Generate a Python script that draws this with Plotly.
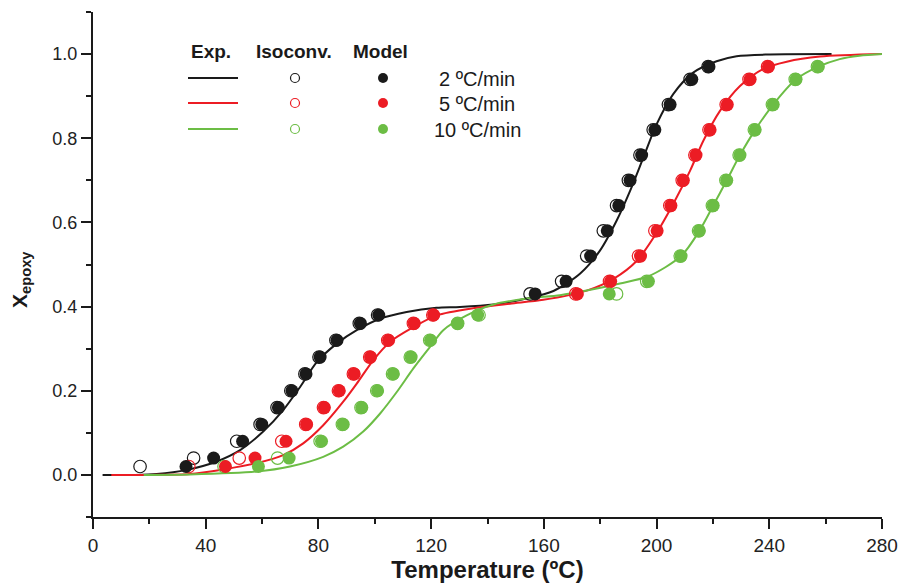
import plotly.graph_objects as go

# ---------------- data ----------------
conv_levels = [0.02, 0.04, 0.08, 0.12, 0.16, 0.20, 0.24, 0.28, 0.32, 0.36, 0.38,
               0.43, 0.46, 0.52, 0.58, 0.64, 0.70, 0.76, 0.82, 0.88, 0.94, 0.97]

# Model (filled) temperatures
model_T_2 = [33.0, 42.8, 53.1, 59.9, 65.8, 70.6, 75.6, 80.6, 86.6, 94.9, 101.4,
             156.9, 167.9, 176.6, 182.5, 186.6, 190.6, 194.7, 199.4, 204.8, 212.5, 218.6]
model_T_5 = [47.0, 57.5, 68.5, 75.8, 82.1, 87.4, 92.7, 98.5, 104.9, 114.0, 120.9,
             171.9, 183.7, 194.3, 200.2, 205.1, 209.5, 214.0, 219.0, 225.1, 233.2, 239.7]
model_T_10 = [58.7, 69.6, 81.1, 88.8, 95.4, 101.0, 106.6, 112.9, 119.8, 129.4, 136.5,
              183.2, 197.1, 208.7, 215.2, 220.1, 224.9, 229.6, 235.0, 241.4, 249.5, 257.4]

# Isoconversional (open) temperatures
iso_T_2 = [16.7, 35.7, 51.0, 59.3, 65.3, 70.2, 75.2, 80.2, 86.2, 94.5, 101.0,
           155.1, 166.3, 175.2, 181.1, 185.8, 190.0, 194.1, 198.8, 204.2, 211.9, 218.3]
iso_T_5 = [34.0, 51.9, 67.0, 75.5, 81.8, 87.1, 92.4, 98.2, 104.6, 113.7, 120.6,
           171.3, 183.3, 193.6, 199.4, 204.7, 209.1, 213.6, 218.6, 224.7, 232.8, 239.4]
iso_T_10 = [46.5, 65.5, 80.6, 88.5, 95.1, 100.7, 106.3, 112.6, 119.5, 129.4, 137.0,
            185.8, 196.5, 208.4, 214.9, 219.8, 224.6, 229.3, 234.7, 241.1, 249.2, 257.1]

# Experimental curves
exp_T_2 = [3.4, 15, 22.6, 33.3, 43.9, 52.2, 60.4, 67.5, 73.5, 79.4, 86.5, 93.6, 101.9,
           111.3, 121.9, 130.2, 142.1, 153.9, 163.4, 172.8, 179.9, 185.8, 190.6, 195.3,
           200.0, 205.9, 213.0, 221.3, 228.4, 240.2, 262.1]
exp_X_2 = [0.0, 0.0, 0.002, 0.012, 0.032, 0.059, 0.103, 0.154, 0.209, 0.268, 0.312, 0.344,
           0.371, 0.387, 0.397, 0.399, 0.405, 0.419, 0.437, 0.478, 0.533, 0.604, 0.675,
           0.754, 0.833, 0.905, 0.956, 0.983, 0.995, 0.999, 1.0]
exp_T_5 = [6.5, 20, 34.4, 46.2, 58.1, 67.5, 74.6, 81.7, 88.8, 93.6, 99.5, 105.4, 113.7,
           122.0, 136.1, 148.0, 159.8, 175.2, 184.7, 193.0, 201.2, 207.1, 211.9, 216.6,
           222.5, 229.6, 237.9, 246.2, 258.0, 280]
exp_X_5 = [0.0, 0.0, 0.002, 0.013, 0.028, 0.047, 0.075, 0.118, 0.174, 0.217, 0.273, 0.316,
           0.351, 0.379, 0.397, 0.407, 0.416, 0.438, 0.466, 0.509, 0.588, 0.659, 0.723,
           0.794, 0.865, 0.924, 0.965, 0.982, 0.994, 1.0]
exp_T_10 = [18, 34.4, 58.1, 69.9, 81.7, 88.8, 95.9, 101.9, 107.8, 113.7, 119.6, 124.3,
            132.6, 142.1, 153.9, 165.7, 175.2, 187.0, 197.1, 208.7, 215.2, 220.1, 224.9,
            229.6, 235.0, 241.4, 249.5, 257.4, 265.0, 272.0, 280]
exp_X_10 = [0.0, 0.001, 0.008, 0.02, 0.043, 0.067, 0.103, 0.146, 0.197, 0.253, 0.304, 0.344,
            0.379, 0.405, 0.419, 0.427, 0.438, 0.455, 0.472, 0.52, 0.58, 0.64, 0.70,
            0.76, 0.82, 0.88, 0.94, 0.97, 0.988, 0.996, 1.0]

rate_labels = ["2 ºC/min", "5 ºC/min", "10 ºC/min"]
x_ticks = [0, 40, 80, 120, 160, 200, 240, 280]
y_ticks = [0.0, 0.2, 0.4, 0.6, 0.8, 1.0]

# ---------------- styles ----------------
colors = ["#1a1a1a", "#ec1c24", "#6cbd45"]
sans = "Liberation Sans, Arial, sans-serif"

fig = go.Figure()

exp_sets = [(exp_T_2, exp_X_2), (exp_T_5, exp_X_5), (exp_T_10, exp_X_10)]
iso_sets = [iso_T_2, iso_T_5, iso_T_10]
model_sets = [model_T_2, model_T_5, model_T_10]

for (t, x), c in zip(exp_sets, colors):
    fig.add_trace(go.Scatter(x=t, y=x, mode="lines",
                             line=dict(color=c, width=2, shape="spline", smoothing=0.8),
                             showlegend=False, hoverinfo="skip"))

for i in range(3):
    fig.add_trace(go.Scatter(x=iso_sets[i], y=conv_levels, mode="markers",
                             marker=dict(symbol="circle-open", size=12.5, color=colors[i],
                                         line=dict(width=1.2, color=colors[i])),
                             showlegend=False))
for i in range(3):
    fig.add_trace(go.Scatter(x=model_sets[i], y=conv_levels, mode="markers",
                             marker=dict(symbol="circle", size=13, color=colors[i],
                                         line=dict(width=0)),
                             showlegend=False))

# ---------------- custom legend (paper coords) ----------------
L, R, T, B = 93, 20, 12, 71
W, H = 902, 588
pw, ph = W - L - R, H - T - B
def px(xp): return (xp - L) / pw
def py(yp): return (H - B - yp) / ph

head_y = 52
for txt, cx in [("Exp.", 211), ("Isoconv.", 294), ("Model", 380)]:
    fig.add_annotation(xref="paper", yref="paper", x=px(cx), y=py(head_y), text=f"<b>{txt}</b>",
                       showarrow=False, font=dict(family=sans, size=19, color="#1a1a1a"),
                       xanchor="center", yanchor="middle")

rows_y = [78, 103, 129]
for i, ry in enumerate(rows_y):
    fig.add_shape(type="line", xref="paper", yref="paper", x0=px(188), x1=px(238), y0=py(ry), y1=py(ry),
                  line=dict(color=colors[i], width=2))
    fig.add_shape(type="circle", xref="paper", yref="paper", xsizemode="pixel", ysizemode="pixel",
                  xanchor=px(295), yanchor=py(ry), x0=-4.5, x1=4.5, y0=-4.5, y1=4.5,
                  line=dict(color=colors[i], width=1.2), fillcolor="rgba(0,0,0,0)")
    fig.add_shape(type="circle", xref="paper", yref="paper", xsizemode="pixel", ysizemode="pixel",
                  xanchor=px(383), yanchor=py(ry), x0=-5, x1=5, y0=-5, y1=5,
                  line=dict(color=colors[i], width=0), fillcolor=colors[i])
    fig.add_annotation(xref="paper", yref="paper", x=px(477), y=py(ry + 1), text=rate_labels[i],
                       showarrow=False, font=dict(family=sans, size=20, color="#1a1a1a"),
                       xanchor="center", yanchor="middle")

# y-axis title as annotation for precise placement
fig.add_annotation(xref="paper", yref="paper", x=px(21), y=py(280), text="<b>X<sub>epoxy</sub></b>",
                   textangle=-90, showarrow=False, font=dict(family=sans, size=21, color="#1a1a1a"),
                   xanchor="center", yanchor="middle")

fig.update_layout(
    width=W, height=H,
    margin=dict(l=L, r=R, t=T, b=B, autoexpand=False),
    paper_bgcolor="white", plot_bgcolor="white",
    showlegend=False,
)
fig.update_xaxes(
    range=[0, 280], tickvals=x_ticks, ticktext=[str(v) for v in x_ticks],
    showline=True, linecolor="#1a1a1a", linewidth=2, mirror=False,
    ticks="outside", ticklen=10, tickwidth=1.5, tickcolor="#1a1a1a",
    minor=dict(dtick=20, tick0=0, ticks="outside", ticklen=5, tickwidth=1.5, tickcolor="#1a1a1a", showgrid=False),
    showgrid=False, zeroline=False,
    tickfont=dict(family=sans, size=19, color="#222"),
    title=dict(text="<b>Temperature (ºC)</b>", font=dict(family=sans, size=24, color="#1a1a1a"), standoff=4),
)
fig.update_yaxes(
    range=[-0.1, 1.1], tickvals=y_ticks, ticktext=[f"{v:.1f}" for v in y_ticks],
    showline=True, linecolor="#1a1a1a", linewidth=2, mirror=False,
    ticks="outside", ticklen=10, tickwidth=1.5, tickcolor="#1a1a1a",
    minor=dict(dtick=0.1, tick0=0, ticks="outside", ticklen=5, tickwidth=1.5, tickcolor="#1a1a1a", showgrid=False),
    showgrid=False, zeroline=False,
    tickfont=dict(family=sans, size=18, color="#222"),
)

fig.write_html("out.html")
